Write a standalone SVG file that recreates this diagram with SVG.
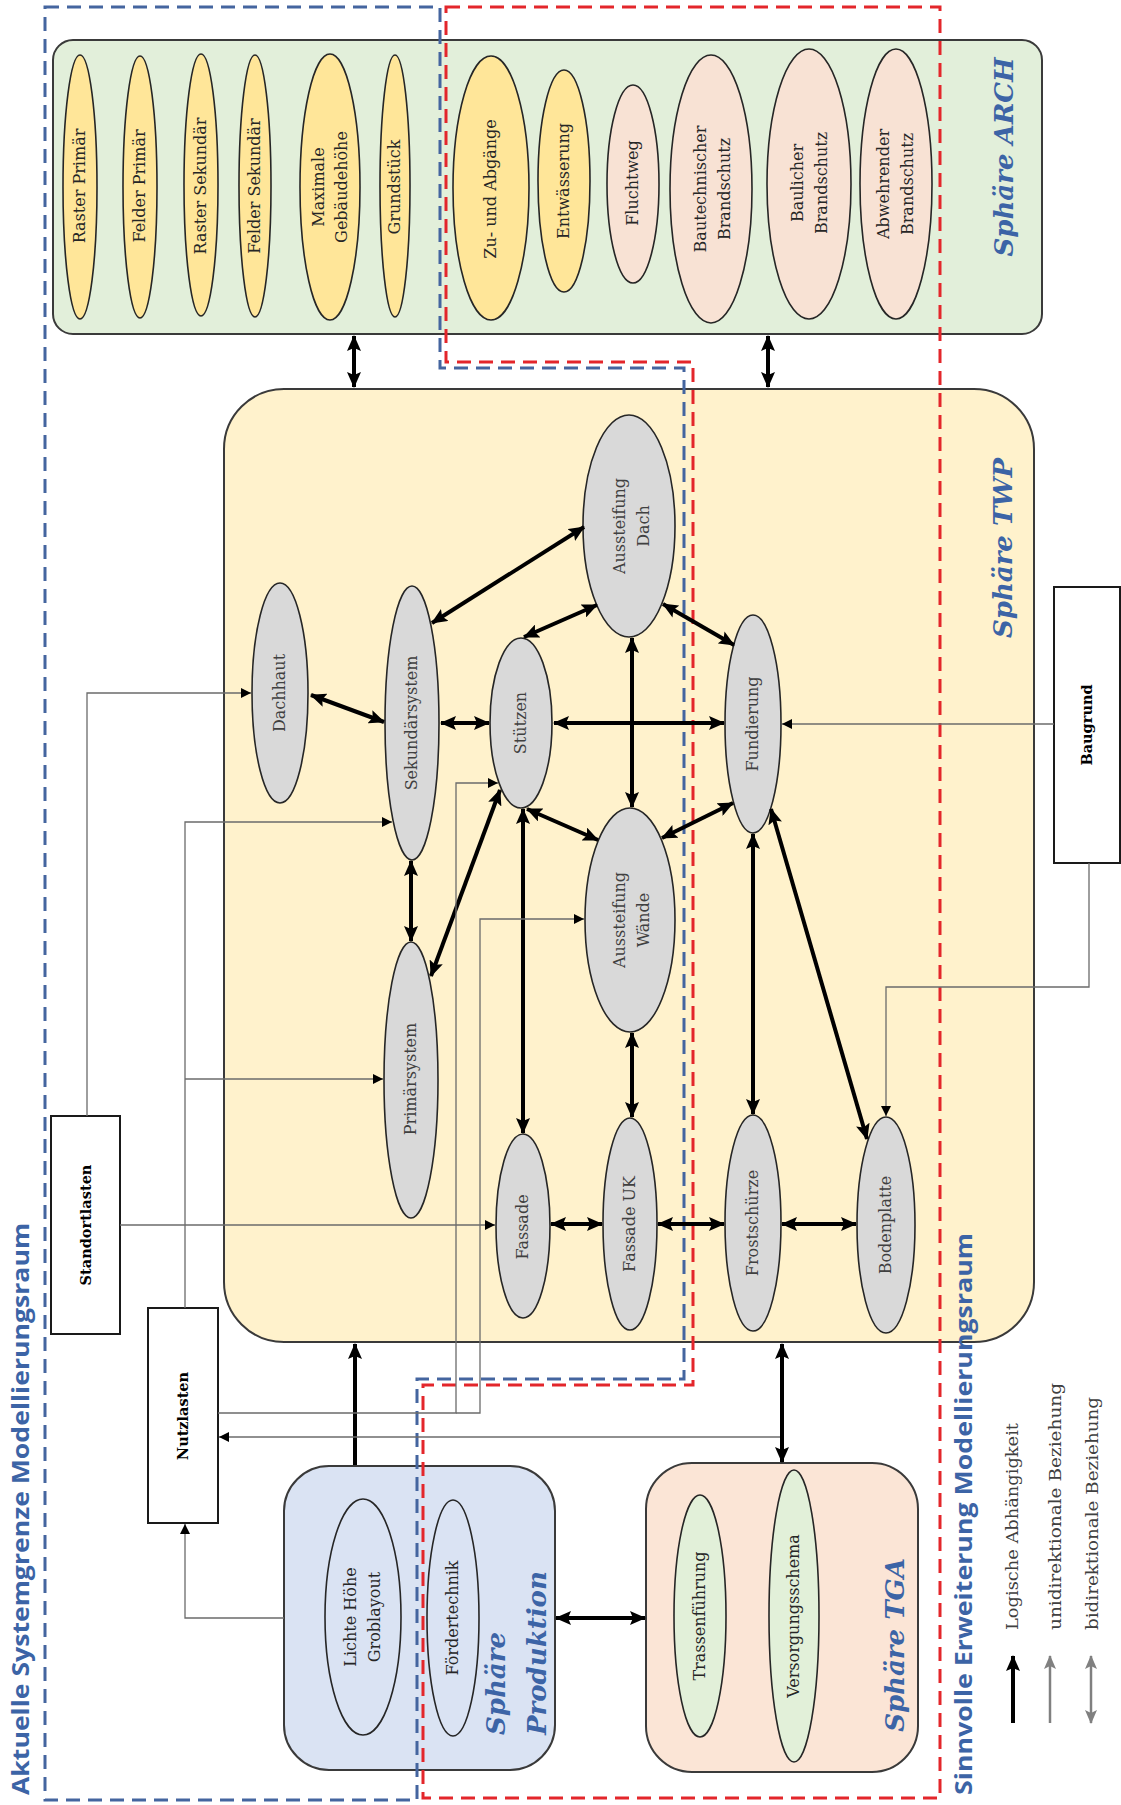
<svg xmlns="http://www.w3.org/2000/svg" width="1121" height="1805" viewBox="0 0 1121 1805">
<defs>
<style>
.box{stroke:#3a3a3a;stroke-width:2}
.arch{fill:#e2efda}
.twp{fill:#fff2cc}
.prod{fill:#dae3f3}
.tga{fill:#fbe5d6}
.ey{fill:#ffe699;stroke:#262626;stroke-width:1.6}
.ep{fill:#f8e2d4;stroke:#262626;stroke-width:1.6}
.eg{fill:#d9d9d9;stroke:#262626;stroke-width:1.6}
.eb{fill:#dae3f3;stroke:#262626;stroke-width:1.6}
.egr{fill:#e2f0d9;stroke:#262626;stroke-width:1.6}
.rbox{fill:#fff;stroke:#1a1a1a;stroke-width:2}
text{font-family:"DejaVu Serif",serif}
.lbl{font-size:16px;fill:#262626;text-anchor:middle}
.lg{font-size:16px;fill:#404040;text-anchor:middle}
.bl{font-size:14.5px;font-weight:bold;fill:#000;text-anchor:middle}
.ttl{font-size:26px;font-weight:bold;font-style:italic;fill:#3c64a6}
.mid{text-anchor:middle}
.big{font-family:"Open Sans",sans-serif;font-size:24px;font-weight:bold;fill:#3c64a6}
.leg{font-size:17px;fill:#404040}
.thick{stroke:#000;stroke-width:4;fill:none;marker-start:url(#ah);marker-end:url(#ah)}
.one{marker-start:none}
.thin{stroke:#6b6b6b;stroke-width:1.3;fill:none;marker-end:url(#ta)}
.dblue{fill:none;stroke:#44659f;stroke-width:3;stroke-dasharray:14 8}
.dred{fill:none;stroke:#e3262b;stroke-width:3;stroke-dasharray:14 8}
</style>
<marker id="ah" viewBox="0 0 16 14" refX="15" refY="7" markerWidth="16" markerHeight="14" markerUnits="userSpaceOnUse" orient="auto-start-reverse"><path d="M0,0 L16,7 L0,14 L3,7 Z" fill="#000"/></marker>
<marker id="ta" viewBox="0 0 10 10" refX="10" refY="5" markerWidth="10" markerHeight="10" markerUnits="userSpaceOnUse" orient="auto"><path d="M0,0 L10,5 L0,10 Z" fill="#000"/></marker>
<marker id="ga" viewBox="0 0 14 12" refX="13" refY="6" markerWidth="14" markerHeight="12" markerUnits="userSpaceOnUse" orient="auto-start-reverse"><path d="M0,0 L14,6 L0,12 L3,6 Z" fill="#808080"/></marker>
</defs>
<rect width="1121" height="1805" fill="#fff"/>

<!-- Sphere containers -->
<g id="sphaere-arch">
<rect class="box arch" x="53" y="40" width="989" height="294" rx="20"/>
<text class="ttl mid" transform="translate(1005,157) rotate(-90)" y="8">Sphäre ARCH</text>
</g>
<g id="sphaere-twp">
<rect class="box twp" x="224" y="389" width="810" height="953" rx="60"/>
<text class="ttl mid" transform="translate(1004,548) rotate(-90)" y="8">Sphäre TWP</text>
</g>
<g id="sphaere-produktion">
<rect class="box prod" x="284" y="1466" width="271" height="304" rx="45"/>
<text class="ttl" transform="translate(497,1735) rotate(-90)" y="8">Sphäre</text>
<text class="ttl" transform="translate(538,1735) rotate(-90)" y="8">Produktion</text>
</g>
<g id="sphaere-tga">
<rect class="box tga" x="646" y="1463" width="272" height="309" rx="46"/>
<text class="ttl mid" transform="translate(896,1645) rotate(-90)" y="8">Sphäre TGA</text>
</g>

<!-- ARCH nodes -->
<g id="raster-primaer"><ellipse class="ey" cx="80" cy="187" rx="17" ry="132"/><text class="lbl" transform="translate(80,186) rotate(-90)" y="5">Raster Primär</text></g>
<g id="felder-primaer"><ellipse class="ey" cx="140" cy="187" rx="17" ry="131"/><text class="lbl" transform="translate(140,186) rotate(-90)" y="5">Felder Primär</text></g>
<g id="raster-sekundaer"><ellipse class="ey" cx="201" cy="185" rx="17" ry="131"/><text class="lbl" transform="translate(201,186) rotate(-90)" y="5">Raster Sekundär</text></g>
<g id="felder-sekundaer"><ellipse class="ey" cx="255" cy="186" rx="16" ry="131"/><text class="lbl" transform="translate(255,186) rotate(-90)" y="5">Felder Sekundär</text></g>
<g id="maximale-gebaeudehoehe"><ellipse class="ey" cx="330" cy="187" rx="30" ry="133"/><text class="lbl" transform="translate(330,187) rotate(-90)"><tspan x="0" y="-6.5">Maximale</tspan><tspan x="0" y="16.5">Gebäudehöhe</tspan></text></g>
<g id="grundstueck"><ellipse class="ey" cx="395" cy="186" rx="15" ry="131"/><text class="lbl" transform="translate(395,187) rotate(-90)" y="5">Grundstück</text></g>
<g id="zu-und-abgaenge"><ellipse class="ey" cx="491" cy="188" rx="38" ry="132"/><text class="lbl" transform="translate(491,189) rotate(-90)" y="5">Zu- und Abgänge</text></g>
<g id="entwaesserung"><ellipse class="ey" cx="564" cy="181" rx="26" ry="111"/><text class="lbl" transform="translate(564,181) rotate(-90)" y="5">Entwässerung</text></g>
<g id="fluchtweg"><ellipse class="ep" cx="633" cy="184" rx="26" ry="99"/><text class="lbl" transform="translate(633,183) rotate(-90)" y="5">Fluchtweg</text></g>
<g id="bautechnischer-brandschutz"><ellipse class="ep" cx="711" cy="189" rx="41" ry="134"/><text class="lbl" transform="translate(713,189) rotate(-90)"><tspan x="0" y="-7">Bautechnischer</tspan><tspan x="0" y="17">Brandschutz</tspan></text></g>
<g id="baulicher-brandschutz"><ellipse class="ep" cx="809" cy="184" rx="42" ry="135"/><text class="lbl" transform="translate(810,183) rotate(-90)"><tspan x="0" y="-7">Baulicher</tspan><tspan x="0" y="17">Brandschutz</tspan></text></g>
<g id="abwehrender-brandschutz"><ellipse class="ep" cx="896" cy="184" rx="36" ry="135"/><text class="lbl" transform="translate(896,184) rotate(-90)"><tspan x="0" y="-7">Abwehrender</tspan><tspan x="0" y="17">Brandschutz</tspan></text></g>

<!-- TWP nodes -->
<g id="dachhaut"><ellipse class="eg" cx="280" cy="693" rx="28" ry="110"/><text class="lg" transform="translate(280,693) rotate(-90)" y="5">Dachhaut</text></g>
<g id="sekundaersystem"><ellipse class="eg" cx="412" cy="723" rx="27" ry="137"/><text class="lg" transform="translate(412,723) rotate(-90)" y="5">Sekundärsystem</text></g>
<g id="stuetzen"><ellipse class="eg" cx="521" cy="723" rx="31" ry="85"/><text class="lg" transform="translate(521,723) rotate(-90)" y="5">Stützen</text></g>
<g id="aussteifung-dach"><ellipse class="eg" cx="629" cy="526" rx="46" ry="111"/><text class="lg" transform="translate(632,526) rotate(-90)"><tspan x="0" y="-7">Aussteifung</tspan><tspan x="0" y="17">Dach</tspan></text></g>
<g id="fundierung"><ellipse class="eg" cx="753" cy="724" rx="28" ry="109"/><text class="lg" transform="translate(753,724) rotate(-90)" y="5">Fundierung</text></g>
<g id="aussteifung-waende"><ellipse class="eg" cx="630" cy="920" rx="45" ry="112"/><text class="lg" transform="translate(632,920) rotate(-90)"><tspan x="0" y="-7">Aussteifung</tspan><tspan x="0" y="17">Wände</tspan></text></g>
<g id="primaersystem"><ellipse class="eg" cx="411" cy="1080" rx="27" ry="138"/><text class="lg" transform="translate(411,1079) rotate(-90)" y="5">Primärsystem</text></g>
<g id="fassade"><ellipse class="eg" cx="523" cy="1226" rx="27" ry="92"/><text class="lg" transform="translate(523,1227) rotate(-90)" y="5">Fassade</text></g>
<g id="fassade-uk"><ellipse class="eg" cx="630" cy="1224" rx="27" ry="106"/><text class="lg" transform="translate(630,1224) rotate(-90)" y="5">Fassade UK</text></g>
<g id="frostschuerze"><ellipse class="eg" cx="753" cy="1223" rx="28" ry="108"/><text class="lg" transform="translate(753,1223) rotate(-90)" y="5">Frostschürze</text></g>
<g id="bodenplatte"><ellipse class="eg" cx="886" cy="1225" rx="29" ry="108"/><text class="lg" transform="translate(886,1225) rotate(-90)" y="5">Bodenplatte</text></g>

<!-- Produktion / TGA nodes -->
<g id="lichte-hoehe-groblayout"><ellipse class="eb" cx="363" cy="1617" rx="38" ry="118"/><text class="lbl" transform="translate(363,1617) rotate(-90)"><tspan x="0" y="-7">Lichte Höhe</tspan><tspan x="0" y="17">Groblayout</tspan></text></g>
<g id="foerdertechnik"><ellipse class="eb" cx="453" cy="1618" rx="26" ry="118"/><text class="lbl" transform="translate(453,1618) rotate(-90)" y="5">Fördertechnik</text></g>
<g id="trassenfuehrung"><ellipse class="egr" cx="700" cy="1616" rx="26" ry="121"/><text class="lbl" transform="translate(700,1616) rotate(-90)" y="5">Trassenführung</text></g>
<g id="versorgungsschema"><ellipse class="egr" cx="794" cy="1616" rx="25" ry="146"/><text class="lbl" transform="translate(794,1616) rotate(-90)" y="5">Versorgungsschema</text></g>

<!-- Rect nodes -->
<g id="standortlasten"><rect class="rbox" x="51" y="1116" width="69" height="218"/><text class="bl" transform="translate(86,1225) rotate(-90)" y="5">Standortlasten</text></g>
<g id="nutzlasten"><rect class="rbox" x="148" y="1308" width="70" height="215"/><text class="bl" transform="translate(183,1416) rotate(-90)" y="5">Nutzlasten</text></g>
<g id="baugrund"><rect class="rbox" x="1054" y="587" width="66" height="276"/><text class="bl" transform="translate(1087,725) rotate(-90)" y="5">Baugrund</text></g>

<!-- Boundaries -->
<g id="systemgrenzen">
<path class="dblue" d="M45,7 H440 V368 H684 V1379 H417 V1800 H45 Z"/>
<path class="dred" d="M446,7 H940 V1798 H423 V1385 H693 V362 H446 Z"/>
<text class="big" transform="translate(23,1795) rotate(-90)" y="6" textLength="572" lengthAdjust="spacingAndGlyphs">Aktuelle Systemgrenze Modellierungsraum</text>
<text class="big" transform="translate(966,1795) rotate(-90)" y="6" textLength="562" lengthAdjust="spacingAndGlyphs">Sinnvolle Erweiterung Modellierungsraum</text>
</g>

<!-- Connectors -->
<g id="connectors">
<path class="thick" d="M354,336 V387"/>
<path class="thick" d="M768,336 V387"/>
<path class="thick" d="M311,695 L384,722"/>
<path class="thick" d="M432,623 L584,527"/>
<path class="thick" d="M441,723 H489"/>
<path class="thick" d="M524,637 L597,605"/>
<path class="thick" d="M632,638 V807"/>
<path class="thick" d="M554,723 H724"/>
<path class="thick" d="M663,604 L734,645"/>
<path class="thick" d="M527,809 L598,840"/>
<path class="thick" d="M733,803 L662,838"/>
<path class="thick" d="M411,861 V941"/>
<path class="thick" d="M500,790 L431,976"/>
<path class="thick" d="M523,809 V1133"/>
<path class="thick" d="M632,1033 V1117"/>
<path class="thick" d="M753,834 V1114"/>
<path class="thick" d="M771,809 L867,1139"/>
<path class="thick" d="M551,1224 H602"/>
<path class="thick" d="M658,1224 H724"/>
<path class="thick" d="M782,1224 H856"/>
<path class="thick one" d="M355,1465 V1344"/>
<path class="thick" d="M782,1344 V1462"/>
<path class="thick" d="M556,1618 H645"/>

<path class="thin" d="M87,1116 V693 H251"/>
<path class="thin" d="M120,1225 H495"/>
<path class="thin" d="M185,1308 V822 H392"/>
<path class="thin" d="M185,1079 H383"/>
<path class="thin" d="M218,1413 H456 V783 H498"/>
<path class="thin" d="M456,1413 H480 V919 H584"/>
<path class="thin" d="M780,1437 H219"/>
<path class="thin" d="M284,1618 H185 V1524"/>
<path class="thin" d="M1054,724 H782"/>
<path class="thin" d="M1089,863 V987 H886 V1116"/>
</g>

<!-- Legend -->
<g id="legende">
<path d="M1013,1723 V1656" stroke="#000" stroke-width="4" fill="none" marker-end="url(#ah)"/>
<path d="M1050,1723 V1656" stroke="#808080" stroke-width="2.5" fill="none" marker-end="url(#ga)"/>
<path d="M1091,1723 V1656" stroke="#808080" stroke-width="2.5" fill="none" marker-start="url(#ga)" marker-end="url(#ga)"/>
<text class="leg" transform="translate(1012,1630) rotate(-90)" y="6" textLength="207" lengthAdjust="spacingAndGlyphs">Logische Abhängigkeit</text>
<text class="leg" transform="translate(1055,1630) rotate(-90)" y="6" textLength="247" lengthAdjust="spacingAndGlyphs">unidirektionale Beziehung</text>
<text class="leg" transform="translate(1092,1630) rotate(-90)" y="6" textLength="233" lengthAdjust="spacingAndGlyphs">bidirektionale Beziehung</text>
</g>
</svg>
